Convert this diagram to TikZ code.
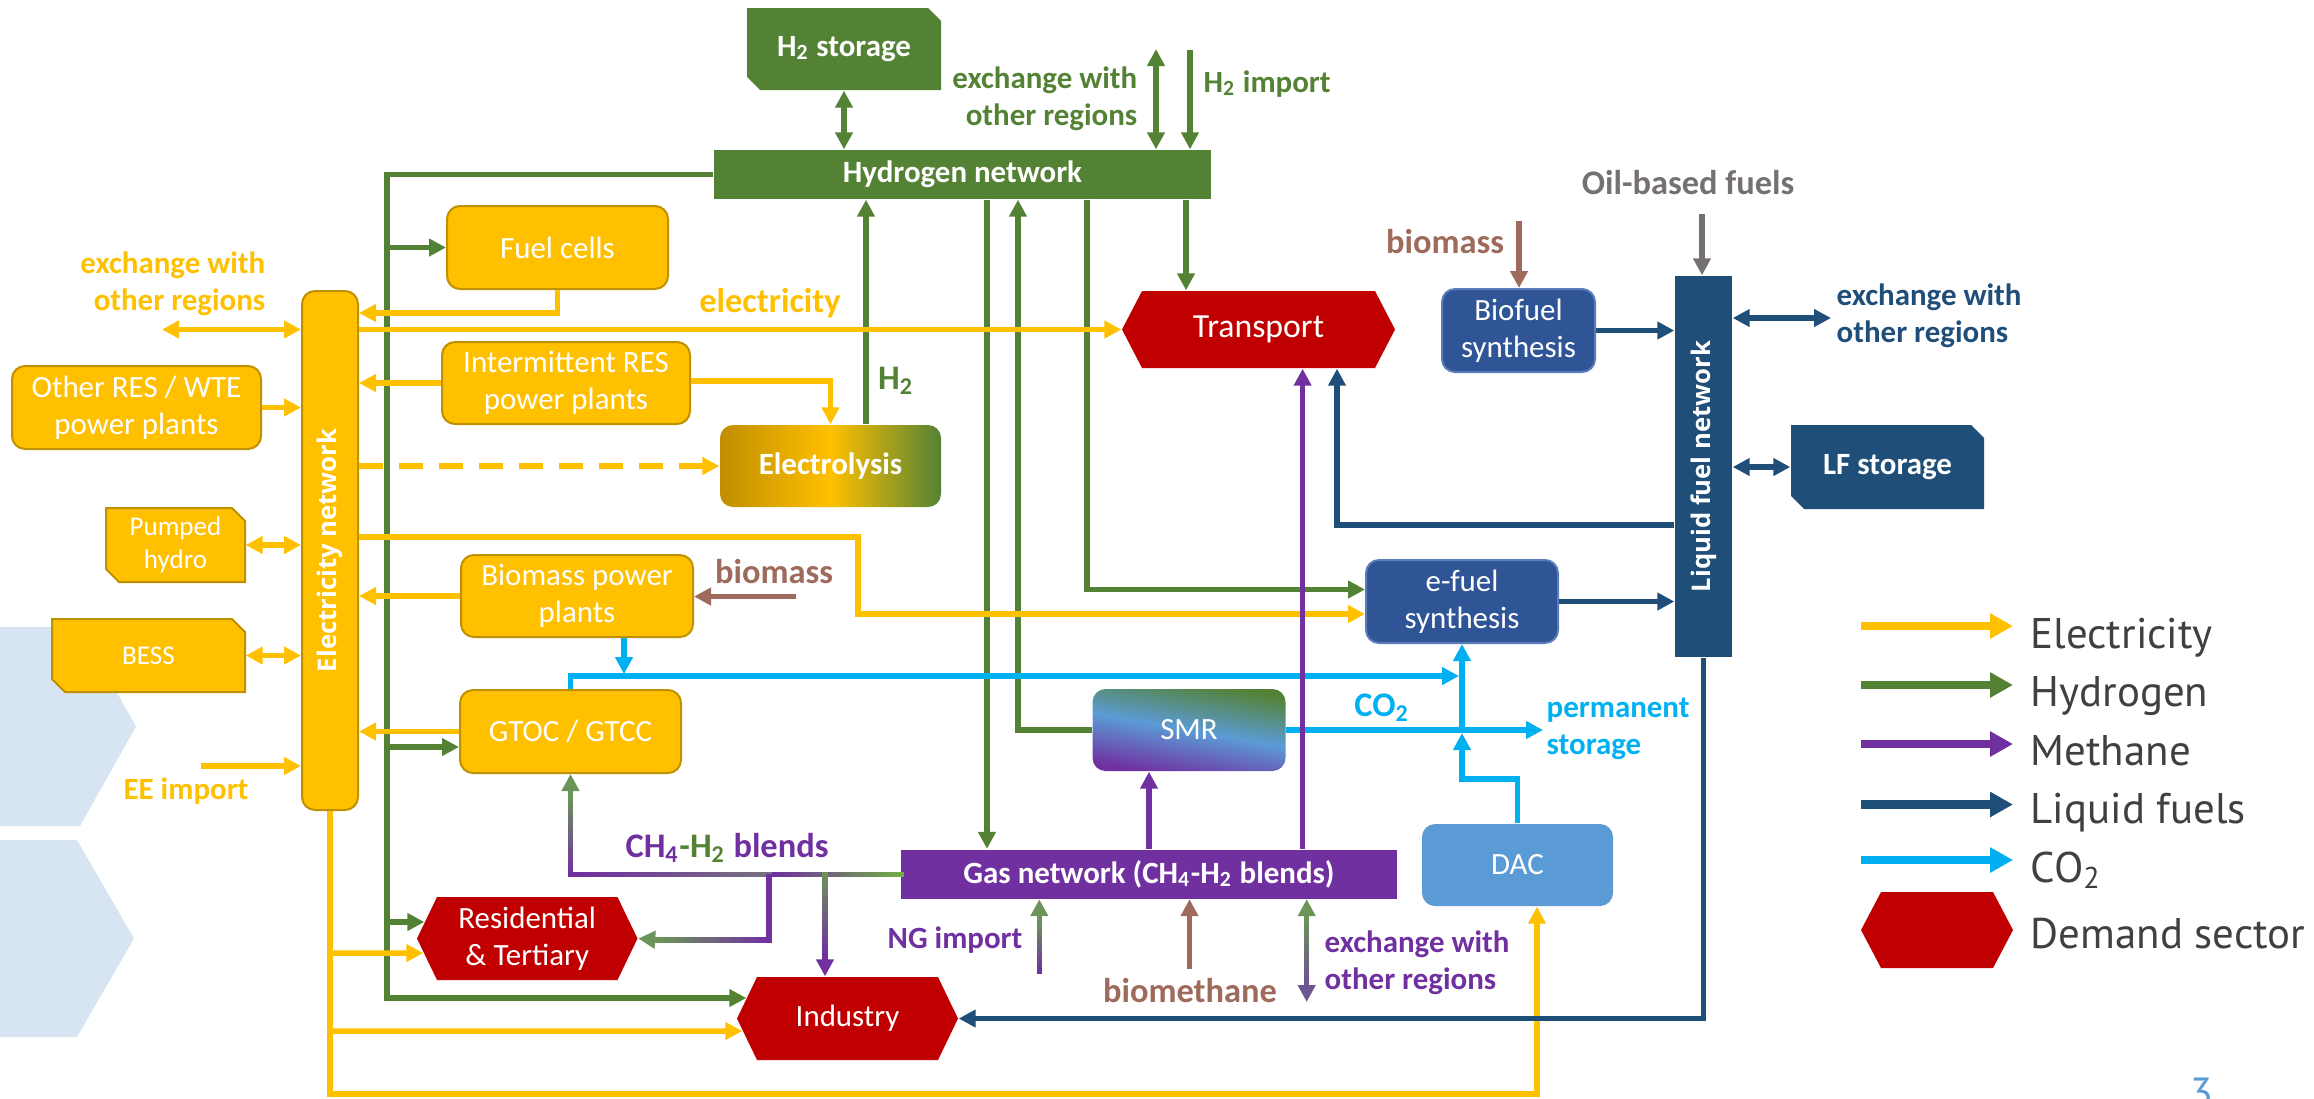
\documentclass[tikz,border=0pt]{standalone}
\usepackage{fontspec}
\setmainfont{Carlito}
\newfontfamily\ptsans{PT Sans}
\newfontfamily\osans{Open Sans}
\usetikzlibrary{arrows.meta,calc}
\definecolor{cYel}{HTML}{FFC000}
\definecolor{cYelD}{HTML}{BF9000}
\definecolor{cGold}{HTML}{C08E00}
\definecolor{cGrn}{HTML}{548235}
\definecolor{cGrnL}{HTML}{70AD47}
\definecolor{cGrnG}{HTML}{6B9458}
\definecolor{cMid}{HTML}{78707E}
\definecolor{cPur}{HTML}{7030A0}
\definecolor{cPurG}{HTML}{6E5690}
\definecolor{cNavy}{HTML}{1F4E79}
\definecolor{cBlue}{HTML}{2F5597}
\definecolor{cBlueE}{HTML}{5A7DBA}
\definecolor{cCyan}{HTML}{00B0F0}
\definecolor{cRed}{HTML}{C00000}
\definecolor{cBrown}{HTML}{9E6A5B}
\definecolor{cGrey}{HTML}{767171}
\definecolor{cDac}{HTML}{5B9BD5}
\definecolor{cChev}{HTML}{D6E5F1}
\definecolor{cLeg}{HTML}{404040}
\newcommand\fsA{\fontsize{8.8}{10.6}\selectfont}
\newcommand\fsB{\fontsize{9.8}{11.8}\selectfont}
\newcommand\fsC{\fontsize{7.7}{9.3}\selectfont}
\newcommand\sbs[1]{\textsubscript{#1}}
\tikzset{
  sz/.style 2 args={minimum width=(#1)*0.1mm, minimum height=(#2)*0.1mm},
  flowline/.style={line width=0.55mm},
  flow/.style={line width=0.55mm, -{Triangle[length=1.7mm,width=1.7mm]}},
  dflow/.style={line width=0.55mm, {Triangle[length=1.7mm,width=1.7mm]}-{Triangle[length=1.7mm,width=1.7mm]}},
  legarrow/.style={line width=0.85mm, -{Triangle[length=2.3mm,width=2.4mm]}},
  boxtxt/.style={text=white, font=\fsA, align=center, inner sep=0pt},
  ybox/.style={boxtxt, fill=cYel, draw=cYelD, line width=0.2mm, rounded corners=1.3mm},
  bbox/.style={boxtxt, fill=cBlue, draw=cBlueE, line width=0.2mm, rounded corners=1.3mm},
  lbl/.style={font=\bfseries\fsA, inner sep=0pt},
  lblB/.style={font=\bfseries\fsB, inner sep=0pt},
  legtxt/.style={font=\ptsans\fontsize{12.2}{14}\selectfont, text=cLeg, anchor=base west, inner sep=0pt}
}
% snipped box: name, x1, x2, y1, y2, path style, node options, text
\newcommand\snip[8]{%
  \path[#6] (#2,#4) -- ({#3-13},#4) -- (#3,{#4+13}) -- (#3,#5) -- ({#2+13},#5) -- (#2,{#5-13}) -- cycle;
  \node[boxtxt, sz={#3-#2}{#5-#4}, #7] (#1) at ({(#2+#3)/2},{(#4+#5)/2}) {#8};}
% hexagon: name, x1, x2, y1, y2, node options, text
\newcommand\hexn[7]{%
  \fill[cRed] (#2,{(#4+#5)/2}) -- ({#2+20},#4) -- ({#3-20},#4) -- (#3,{(#4+#5)/2}) -- ({#3-20},#5) -- ({#2+20},#5) -- cycle;
  \node[boxtxt, sz={#3-#2}{#5-#4}, #6] (#1) at ({(#2+#3)/2},{(#4+#5)/2}) {#7};}
% gradient line: x1,y1,x2,y2,colA,colB
\newcommand\gline[6]{%
  \foreach \k in {0,...,19}{%
    \pgfmathsetmacro\pa{100-100*\k/19}%
    \pgfmathsetmacro\kb{min(\k+1.4,20)}%
    \draw[line width=0.55mm, line cap=rect, color=#5!\pa!#6] ({#1+(#3-#1)*\k/20},{#2+(#4-#2)*\k/20}) -- ({#1+(#3-#1)*\kb/20},{#2+(#4-#2)*\kb/20});
  }}
\begin{document}
\begin{tikzpicture}[x=0.1mm,y=-0.1mm]
\useasboundingbox (0,0) rectangle (2314,1098);
% background chevrons
\fill[cChev] (0,627) -- (80,627) -- (136,726.5) -- (80,826) -- (0,826) -- cycle;
\fill[cChev] (0,840) -- (77,840) -- (134,938.5) -- (77,1037) -- (0,1037) -- cycle;

% ---------- nodes ----------
\node[ybox, sz={56}{519}] (elec) at (330,550.5) {};
\node[rotate=90, text=white, inner sep=0pt, font=\osans\bfseries\fontsize{7.3}{9}\selectfont] (elecT) at (elec.center) {Electricity network};
\node[boxtxt, fill=cGrn, font=\bfseries\fsA, sz={497}{49}] (h2net) at (962.5,174.5) {Hydrogen network};
\snip{h2s}{747}{941}{8}{90}{fill=cGrn}{font=\bfseries\fsA}{H\sbs{2} storage}
\node[ybox, sz={249}{83}] (ores) at (136.5,407.5) {Other RES / WTE\\power plants};
\node[ybox, sz={221}{83}] (fc) at (557.5,247.5) {Fuel cells};
\node[ybox, sz={248}{82}] (ires) at (566,383) {Intermittent RES\\power plants};
\node[boxtxt, font=\bfseries\fsA, sz={221}{82}, rounded corners=1.3mm, left color=cGold, right color=cGrn, middle color=cYel] (ely) at (830.5,466) {Electrolysis};
\snip{ph}{106}{245}{508}{582}{fill=cYel, draw=cYelD, line width=0.2mm}{font=\fsC}{Pumped\\hydro}
\node[ybox, sz={232}{82}] (bpp) at (577,596) {Biomass power\\plants};
\snip{bess}{52}{245}{619}{692}{fill=cYel, draw=cYelD, line width=0.2mm}{font=\fsC}{BESS}
\node[ybox, sz={221}{83}] (gt) at (570.5,731.5) {GTOC / GTCC};
\hexn{res}{417}{637.5}{897}{980}{}{Residential\\\& Tertiary}
\hexn{ind}{737}{958}{977}{1060}{}{Industry}
\hexn{tr}{1122}{1395}{291}{368}{font=\fontsize{9.6}{11}\selectfont}{Transport}
\node[boxtxt, fill=cPur, font=\bfseries\fsA, sz={496}{49}] (gas) at (1149,874) {Gas network (CH\sbs{4}-H\sbs{2} blends)};
\node[boxtxt, sz={193}{82}, rounded corners=1.3mm, top color=cGrn, bottom color=cPur, middle color=cDac, shading angle=-10] (smr) at (1189,730) {SMR};
\node[bbox, sz={192}{83}] (ef) at (1462,601.5) {e-fuel\\synthesis};
\node[bbox, sz={153}{83}] (bf) at (1518.5,330.5) {Biofuel\\synthesis};
\node[boxtxt, fill=cNavy, sz={57}{381}] (lf) at (1703.5,466.5) {};
\node[rotate=90, text=white, inner sep=0pt, font=\osans\bfseries\fontsize{7.3}{9}\selectfont] (lfT) at (lf.center) {Liquid fuel network};
\snip{lfs}{1791}{1984}{425}{509}{fill=cNavy}{font=\bfseries\fsA}{LF storage}
\node[boxtxt, fill=cDac, sz={191}{82}, rounded corners=1.3mm] (dac) at (1517.5,865) {DAC};

% ---------- labels ----------
\node[lbl, text=cYel, align=right, anchor=east] (lyx) at (266,284) {exchange with\\other regions};
\node[lblB, text=cYel] (lel) at (770,303) {electricity};
\node[lblB, text=cGrn] (lh2) at (896,381) {H\sbs{2}};
\node[lblB, text=cBrown] (lbm1) at (774,572) {biomass};
\node[lbl, text=cYel] (lee) at (186,791) {EE import};
\node[lbl, text=cGrn, align=right, anchor=east] (lgx) at (1138,99) {exchange with\\other regions};
\node[lbl, text=cGrn, anchor=west] (lgi) at (1203,84) {H\sbs{2} import};
\node[lblB, text=cGrey] (loil) at (1688,183) {Oil-based fuels};
\node[lblB, text=cBrown] (lbm2) at (1445,242) {biomass};
\node[lbl, text=cNavy, align=left, anchor=west] (llx) at (1836,315.5) {exchange with\\other regions};
\node[lblB, text=cCyan] (lco2) at (1382,708) {CO\sbs{2}};
\node[lbl, text=cCyan, align=left, anchor=west] (lps) at (1546,729) {permanent\\storage};
\node[lblB, text=cPur] (lch) at (727,848) {CH\sbs{4}\textcolor{cGrn}{-H\sbs{2}} blends};
\node[lbl, text=cPur] (lng) at (955,940) {NG import};
\node[lblB, text=cBrown] (lbme) at (1190,991) {biomethane};
\node[lbl, text=cPur, align=left, anchor=west] (lgx2) at (1324,962.5) {exchange with\\other regions};

% ---------- hydrogen flows ----------
\draw[flow, cGrn] (h2net.west) -| (387,998) -- ($(ind.west)+(10,-20.5)$);
\draw[flow, cGrn] (fc.west -| 387,0) -- (fc.west);
\draw[flow, cGrn] ($(gt.west)+(-73,15.5)$) -- ($(gt.west)+(0,15.5)$);
\draw[flow, cGrn] (387,922) -- ($(res.west)+(8,-16.5)$);
\draw[dflow, cGrn] (h2s.south) -- (h2s.south |- h2net.north);
\coordinate (gx) at (1156,49);
\draw[dflow, cGrn] (gx) -- (gx |- h2net.north);
\coordinate (gi) at (1190,50);
\draw[flow, cGrn] (gi) -- (gi |- h2net.north);
\draw[flow, cGrn] (866,0 |- ely.north) -- (866,0 |- h2net.south);
\draw[flow, cGrn] (987,0 |- h2net.south) -- (987,0 |- gas.north);
\draw[flow, cGrn] (smr.west) -| (1018,0 |- h2net.south);
\draw[flow, cGrn] (1087,0 |- h2net.south) |- ($(ef.west)+(0,-12)$);
\draw[flow, cGrn] (1186,0 |- h2net.south) -- (1186,0 |- tr.north);

% ---------- electricity flows ----------
\draw[flow, cYel] (fc.south) |- (elec.east |- 0,313);
\draw[flow, cYel] (elec.east |- tr.west) -- (tr.west);
\coordinate (yx) at (162,329.5);
\draw[dflow, cYel] (yx) -- (yx -| elec.west);
\draw[flow, cYel] (ores.east) -- (ores.east -| elec.west);
\draw[flow, cYel] (ires.west) -- (ires.west -| elec.east);
\draw[flow, cYel] ($(ires.east)+(0,-2)$) -| (ely.north);
\draw[flow, cYel, dash pattern=on 2.4mm off 1.6mm] (elec.east |- ely.west) -- (ely.west);
\draw[dflow, cYel] (ph.east) -- (ph.east -| elec.west);
\draw[flow, cYel] (elec.east |- 0,537) -- (858,537) |- ($(ef.west)+(0,12.5)$);
\draw[flow, cYel] (bpp.west) -- (bpp.west -| elec.east);
\draw[dflow, cYel] (bess.east) -- (bess.east -| elec.west);
\draw[flow, cYel] (gt.west) -- (gt.west -| elec.east);
\coordinate (ee) at (201,766);
\draw[flow, cYel] (ee) -- (ee -| elec.west);
\draw[flow, cYel] (elec.south) -- (330,1094) -| ($(dac.south)+(19.5,0)$);
\draw[flow, cYel] (330,953) -- ($(res.west)+(7,14.5)$);
\draw[flow, cYel] (330,1031) -- ($(ind.west)+(6,12.5)$);

% ---------- biomass / oil ----------
\coordinate (bmL) at (796,596.5);
\draw[flow, cBrown] (bmL) -- (bmL -| bpp.east);
\coordinate (bmR) at (1519,221);
\draw[flow, cBrown] (bmR) -- (bmR |- bf.north);
\coordinate (bme) at (1189.5,969);
\draw[flow, cBrown] (bme) -- (bme |- gas.south);
\coordinate (oil) at (1702,214);
\draw[flow, cGrey] (oil) -- (oil |- lf.north);

% ---------- liquid fuels ----------
\draw[flow, cNavy] (bf.east) -- (bf.east -| lf.west);
\draw[flow, cNavy] (ef.east) -- (ef.east -| lf.west);
\coordinate (lx) at (1831,318);
\draw[dflow, cNavy] (lx -| lf.east) -- (lx);
\draw[dflow, cNavy] (lfs.west -| lf.east) -- (lfs.west);
\draw[flow, cNavy] (lf.west |- 0,525) -| (1337,0 |- tr.south);
\draw[flow, cNavy] (lf.south) |- (ind.east);

% ---------- CO2 ----------
\draw[flow, cCyan] (624,0 |- bpp.south) -- (624,674);
\draw[flow, cCyan] (570.5,0 |- gt.north) |- (1459,676);
\draw[flow, cCyan] (smr.east) -- (1543,730);
\draw[flow, cCyan] (dac.north) |- (1462,779) -- (1462,733);
\draw[flow, cCyan] (1462,730) -- (ef.south);

% ---------- methane ----------
\draw[flow, cPur] (gas.north) -- (gas.north |- smr.south);
\draw[flow, cPur] (1302.6,0 |- gas.north) -- (1302.6,0 |- tr.south);
% CH4-H2 blend lines (colour gradients)
\gline{901}{874.3}{769}{874.3}{cGrnL}{cPur}
\gline{769}{874.3}{570.5}{874.3}{cMid}{cPur}
\gline{570.5}{874.3}{570.5}{792}{cPur}{cGrnG}
\draw[flow, cGrnG] (570.5,795) -- (570.5,0 |- gt.south);
\draw[flowline, cPur] (769,874.3) -- (769,940);
\gline{769}{940}{655}{940}{cPur}{cGrnG}
\draw[flow, cGrnG] (660,940) -- (res.east);
\gline{825}{874.3}{825}{960}{cGrnG}{cPur}
\draw[flow, cPur] (825,955) -- (825,0 |- ind.north);
\gline{1039.3}{971}{1039.3}{918}{cPur}{cGrnG}
\draw[flow, cGrnG] (1039.3,921) -- (1039.3,0 |- gas.south);
\gline{1306.7}{918}{1306.7}{985}{cGrnG}{cPurG}
\draw[flow, cGrnG] (1306.7,921) -- (1306.7,0 |- gas.south);
\draw[flow, cPurG] (1306.7,982) -- (1306.7,1002);

% ---------- legend ----------
\draw[legarrow, cYel] (1861,626) -- (2013,626);
\draw[legarrow, cGrn] (1861,685) -- (2013,685);
\draw[legarrow, cPur] (1861,744) -- (2013,744);
\draw[legarrow, cNavy] (1861,804.5) -- (2013,804.5);
\draw[legarrow, cCyan] (1861,860) -- (2013,860);
\hexn{legdem}{1861}{2013}{892}{968}{}{}
\node[legtxt] (legE) at (2030,648) {Electricity};
\node[legtxt] (legH) at (2030,706) {Hydrogen};
\node[legtxt] (legM) at (2030,765) {Methane};
\node[legtxt] (legL) at (2030,823) {Liquid fuels};
\node[legtxt] (legC) at (2030,882) {CO\sbs{2}};
\node[legtxt] (legD) at (2030,948) {Demand sector};
\node[font=\ptsans\fontsize{12}{14}\selectfont, text=cDac, anchor=north, inner sep=0pt] (pg) at (2202,1077) {3};
\end{tikzpicture}
\end{document}
